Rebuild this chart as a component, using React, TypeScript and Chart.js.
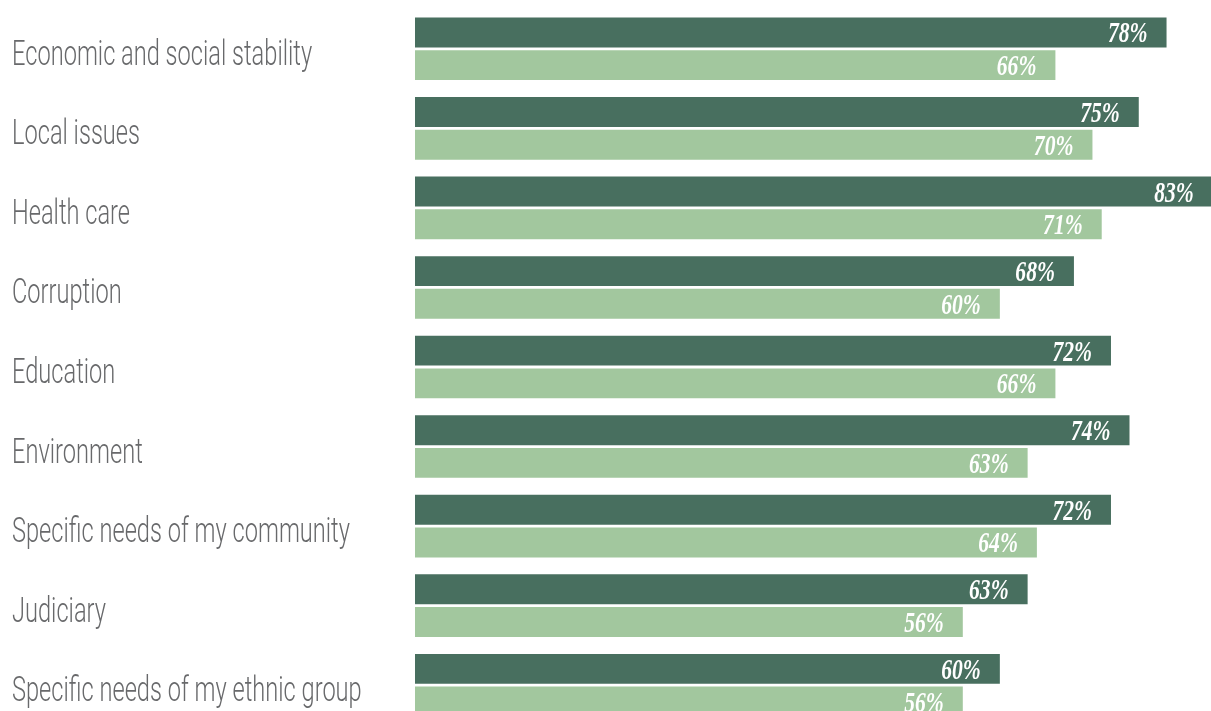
import React, { useEffect, useRef } from "react";
import { Chart, registerables } from "chart.js";

Chart.register(...registerables);

const categories = [
  "Economic and social stability",
  "Local issues",
  "Health care",
  "Corruption",
  "Education",
  "Environment",
  "Specific needs of my community",
  "Judiciary",
  "Specific needs of my ethnic group",
];
const darkValues = [78, 75, 83, 68, 72, 74, 72, 63, 60];
const lightValues = [66, 70, 71, 60, 66, 63, 64, 56, 56];
const axisMin = -3.15;
const axisMax = 82.8;

const DARK = "#486f5f";
const LIGHT = "#a2c79e";
const LABEL_GRAY = "#68696b";

const labelsPlugin = {
  id: "customLabels",
  afterDatasetsDraw(chart: any) {
    const ctx = chart.ctx;
    chart.data.datasets.forEach((ds: any, di: number) => {
      const meta = chart.getDatasetMeta(di);
      meta.data.forEach((bar: any, i: number) => {
        const v = ds.data[i];
        ctx.save();
        ctx.translate(bar.x - 19, bar.y + 10);
        ctx.scale(0.72, 1);
        ctx.font = "italic bold 30px 'Liberation Serif', 'DejaVu Serif', serif";
        ctx.fillStyle = "#ffffff";
        ctx.textAlign = "right";
        ctx.textBaseline = "alphabetic";
        ctx.fillText(v + "%", 0, 0);
        ctx.restore();
      });
    });
    const yScale = chart.scales.y;
    categories.forEach((c, i) => {
      const y = yScale.getPixelForTick(i);
      ctx.save();
      ctx.translate(12, y + 16);
      ctx.scale(0.675, 1);
      ctx.font = "300 35px Roboto, 'Liberation Sans', sans-serif";
      ctx.fillStyle = LABEL_GRAY;
      ctx.textAlign = "left";
      ctx.textBaseline = "alphabetic";
      ctx.fillText(c, 0, 0);
      ctx.restore();
    });
  },
};

export default function App() {
  const canvasRef = useRef<HTMLCanvasElement | null>(null);

  useEffect(() => {
    const canvas = canvasRef.current;
    if (!canvas) return;
    const chart = new Chart(canvas, {
      type: "bar",
      data: {
        labels: categories,
        datasets: [
          {
            label: "Series 1",
            data: darkValues,
            backgroundColor: DARK,
            base: axisMin,
            categoryPercentage: 0.822,
            barPercentage: 0.915,
          } as any,
          {
            label: "Series 2",
            data: lightValues,
            backgroundColor: LIGHT,
            base: axisMin,
            categoryPercentage: 0.822,
            barPercentage: 0.915,
          } as any,
        ],
      },
      options: {
        indexAxis: "y",
        responsive: false,
        animation: false,
        devicePixelRatio: 1,
        layout: { padding: { left: 12, top: 9, right: 0, bottom: 0 } },
        plugins: {
          legend: { display: false },
          tooltip: { enabled: false },
        },
        scales: {
          x: {
            display: false,
            min: axisMin,
            max: axisMax,
          },
          y: {
            display: true,
            grid: { display: false },
            border: { display: false },
            ticks: { display: false },
            afterFit: (scale: any) => {
              scale.width = 403;
            },
          },
        },
      },
      plugins: [labelsPlugin],
    });
    return () => chart.destroy();
  }, []);

  return (
    <div
      style={{
        position: "fixed",
        left: 0,
        top: 0,
        width: 1211,
        height: 725,
        background: "#ffffff",
      }}
    >
      <canvas
        ref={canvasRef}
        width={1211}
        height={725}
        style={{ width: 1211, height: 725, display: "block" }}
      />
    </div>
  );
}
